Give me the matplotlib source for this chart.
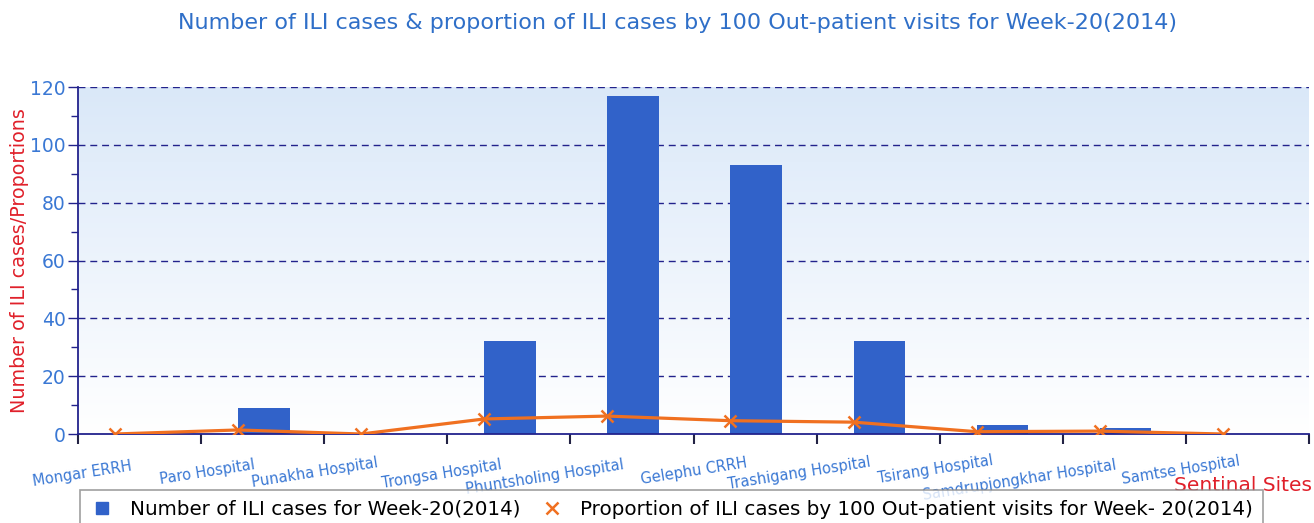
import matplotlib
matplotlib.use("Agg")
import matplotlib.pyplot as plt
import numpy as np
from matplotlib.ticker import MultipleLocator
from matplotlib.lines import Line2D

sites = ["Mongar ERRH", "Paro Hospital", "Punakha Hospital", "Trongsa Hospital",
         "Phuntsholing Hospital", "Gelephu CRRH", "Trashigang Hospital",
         "Tsirang Hospital", "Samdrupjongkhar Hospital", "Samtse Hospital"]
ili_cases = [0, 9, 0, 32, 117, 93, 32, 3, 2, 0]
proportions = [0.0, 1.4, 0.0, 5.2, 6.2, 4.6, 4.1, 0.8, 1.0, 0.0]

title = "Number of ILI cases & proportion of ILI cases by 100 Out-patient visits for Week-20(2014)"
bar_label = "Number of ILI cases for Week-20(2014)"
line_label = "Proportion of ILI cases by 100 Out-patient visits for Week- 20(2014)"

navy = "#22228c"
tick_blue = "#3a78d4"
title_blue = "#2f6fc8"
red = "#e0202a"
bar_col = "#3162c9"
line_col = "#f07020"

fig = plt.figure(figsize=(13.14, 5.23), dpi=100)
ax = fig.add_axes([78/1314, 89/523, 1231/1314, 347/523])

n = len(sites)
xpos = np.arange(n) + 0.3

# gradient background
grad = np.linspace(0, 1, 256).reshape(-1, 1)
top = np.array([0.855, 0.91, 0.975])
bot = np.array([1.0, 1.0, 1.0])
img = bot + (top - bot) * grad[:, :, None] * np.ones((1, 2, 1))
ax.imshow(img, extent=[0, n, 0, 120], origin="lower", aspect="auto", zorder=0)

for yv in range(20, 121, 20):
    ax.axhline(yv, color=navy, lw=1, ls=(0, (5, 3.5)), zorder=1)

ax.bar(xpos, ili_cases, width=0.42, align="edge", color=bar_col, zorder=2)
ax.plot(xpos, proportions, color=line_col, lw=2.3, marker="x", ms=9, mew=1.8,
        zorder=3)

ax.set_xlim(0, n)
ax.set_ylim(0, 120)
ax.set_xticks(np.arange(0, n + 1))
ax.set_xticklabels([])
ax.tick_params(axis="x", direction="out", length=7, width=1.5, color="#222244")
ax.yaxis.set_major_locator(MultipleLocator(20))
ax.yaxis.set_minor_locator(MultipleLocator(10))
ax.tick_params(axis="y", which="major", length=7, width=1, color=navy,
               labelcolor=tick_blue, labelsize=13.5, pad=2)
ax.tick_params(axis="y", which="minor", length=5, width=1, color=navy)

for s in ["top", "right"]:
    ax.spines[s].set_visible(False)
for s in ["left", "bottom"]:
    ax.spines[s].set_color(navy)
    ax.spines[s].set_linewidth(1.3)

# px below the axis for the top of each rotated label
label_dy = [25, 23, 21, 23, 23, 21, 21, 19, 24, 19]
for i, name in enumerate(sites):
    ax.annotate(name, xy=(xpos[i], 0), xycoords="data",
                xytext=(13, -label_dy[i] * 0.72), textcoords="offset points",
                rotation=9, ha="right", va="top", fontsize=10.5,
                color=tick_blue, zorder=1)

ax.set_ylabel("Number of ILI cases/Proportions", color=red, fontsize=13.8)
ax.yaxis.set_label_coords(-0.04, 0.5)

fig.text(678/1314, 1 - 23/523, title, color=title_blue, fontsize=16,
         ha="center", va="center")
fig.text(1312/1314, 1 - 491/523, "Sentinal Sites", color=red, fontsize=14.5,
         ha="right", va="baseline")

h_bar = Line2D([], [], ls="none", marker="s", ms=8, color=bar_col)
h_line = Line2D([], [], ls="none", marker="x", ms=9, mew=1.8, color=line_col)
leg = fig.legend(handles=[h_bar, h_line], labels=[bar_label, line_label],
                 loc="upper left", ncol=2, bbox_to_anchor=(80/1314, 1 - 490/523),
                 borderaxespad=0, frameon=True, fancybox=False,
                 edgecolor="#888888", fontsize=14.3, handlelength=1.2,
                 handletextpad=0.8, columnspacing=1.0, borderpad=0.5)
leg.get_frame().set_linewidth(1.2)

fig.savefig("out.png", dpi=100)
